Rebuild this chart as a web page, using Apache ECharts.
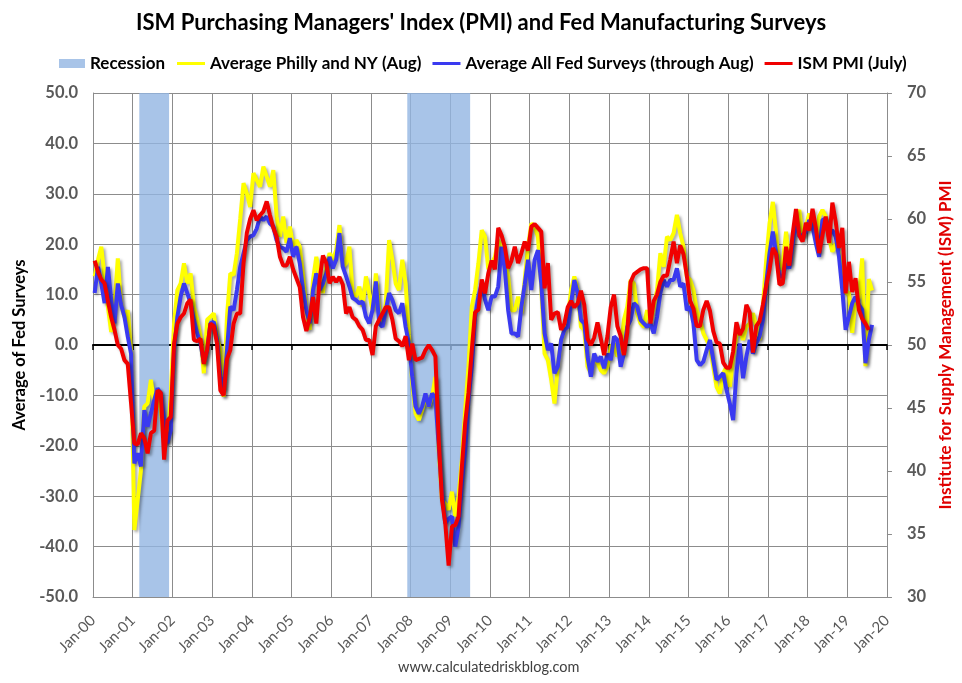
<!DOCTYPE html>
<html>
<head>
<meta charset="utf-8">
<script src="https://cdn.jsdelivr.net/npm/echarts@6/dist/echarts.min.js"></script>
<style>
html,body{margin:0;padding:0;background:#ffffff;}
#chart{width:962px;height:683px;}
</style>
</head>
<body>
<div id="chart"></div>
<script>
// ---------------- DATA ----------------
const START_YEAR = 2000;   // first month of every series = Jan 2000
const xTickLabels = ['Jan-00','Jan-01','Jan-02','Jan-03','Jan-04','Jan-05','Jan-06','Jan-07','Jan-08','Jan-09',
  'Jan-10','Jan-11','Jan-12','Jan-13','Jan-14','Jan-15','Jan-16','Jan-17','Jan-18','Jan-19','Jan-20'];
const recessions = [['2001-03','2001-11'], ['2007-12','2009-06']];

// Average Philly and NY (monthly, Jan 2000 - Aug 2019)
const phillyNY = [
  13.6, 16.9, 19.5, 13.6, 7.6, 2.6, 7.6, 17.2, 8.0, 5.5, 6.9, -1.0,
  -36.7, -30.8, -24.8, -12.2, -11.6, -6.9, -11.6, -8.9, -12.9, -19.5, -18.8, -10.0,
  4.3, 10.9, 12.2, 16.2, 12.2, 14.2, 7.6, 5.0, 1.7, -5.6, 5.0, 5.6,
  6.3, 1.7, -1.0, -10.3, 5.6, 14.2, 13.9, 18.2, 25.0, 32.1, 30.1, 27.4,
  34.1, 32.7, 31.4, 35.4, 33.4, 31.4, 34.7, 25.5, 21.5, 25.5, 20.2, 23.5,
  19.5, 20.8, 19.5, 13.6, 6.9, 3.0, 12.9, 17.5, 13.6, 10.3, 15.5, 18.2,
  16.9, 18.8, 23.8, 15.5, 16.2, 19.5, 10.3, 9.6, 11.6, 7.6, 13.6, 10.3,
  6.9, 14.2, 6.9, 4.3, 8.3, 20.8, 16.9, 12.2, 10.9, 16.9, 12.2, 2.0,
  -7.6, -13.6, -14.9, -12.9, -10.3, -12.2, -10.3, -6.3, -20.8, -30.8, -31.5, -32.7,
  -29.1, -34.0, -30.0, -22.8, -12.9, -4.3, 7.6, 10.9, 16.2, 22.8, 21.5, 15.0,
  16.2, 17.5, 20.8, 19.5, 17.5, 13.6, 6.9, 6.9, 9.6, 6.3, 12.9, 19.5,
  24.1, 23.5, 21.5, 11.6, -1.7, -3.0, -6.9, -11.6, -4.3, 1.0, 3.0, 5.0,
  10.9, 13.6, 10.9, 3.6, 3.0, -4.3, -5.6, -2.3, -3.6, -5.0, -5.6, -4.3,
  -0.3, 0.3, -2.3, -1.0, 5.0, 7.6, 12.9, 12.2, 6.3, 4.3, 3.6, 6.9,
  4.3, 7.6, 10.9, 18.2, 15.5, 21.5, 20.8, 22.2, 25.8, 22.2, 19.5, 13.6,
  12.9, 10.9, 6.9, 5.0, 2.3, 1.0, -0.3, -4.3, -8.3, -9.6, -5.6, -4.3,
  -8.3, -2.3, 1.7, 3.0, 1.0, 3.6, 4.3, 6.3, 3.6, 1.0, 7.6, 16.9,
  24.1, 28.4, 22.2, 14.9, 16.2, 22.5, 16.2, 20.8, 25.5, 26.8, 21.5, 23.5,
  26.1, 23.8, 20.8, 25.5, 26.8, 25.5, 21.2, 18.5, 20.2, 18.2, 15.0, 10.2,
  10.5, 2.4, 8.7, 9.3, 17.2, -4.2, 13.1, 10.8
];

// Average All Fed Surveys (monthly, Jan 2000 - Aug 2019)
const allFed = [
  10.3, 15.5, 12.2, 8.3, 15.5, 9.0, 4.3, 12.2, 8.0, 5.6, 1.7, -1.7,
  -23.5, -21.5, -24.1, -12.9, -16.2, -13.6, -10.9, -8.6, -9.6, -15.0, -19.5, -16.9,
  -1.0, 5.6, 9.6, 12.2, 10.3, 8.3, 5.0, 2.3, 0.3, -3.6, -1.0, 4.3,
  4.6, 1.0, -6.3, -8.9, -1.0, 7.6, 6.9, 10.9, 15.5, 18.2, 20.8, 21.5,
  21.8, 23.1, 25.5, 24.8, 25.5, 24.1, 23.5, 20.8, 19.5, 19.2, 18.5, 21.2,
  17.5, 19.5, 16.2, 10.9, 6.9, 4.3, 10.9, 14.2, 10.9, 12.2, 14.2, 17.5,
  15.2, 16.9, 22.2, 15.5, 13.6, 11.6, 9.3, 8.9, 8.3, 8.6, 5.6, 4.3,
  7.0, 12.6, 4.3, 3.6, 6.9, 10.3, 8.9, 6.9, 6.3, 8.3, 3.6, 0.3,
  -6.3, -12.2, -13.6, -12.2, -9.6, -12.2, -9.6, -10.5, -20.0, -29.4, -35.4, -34.5,
  -34.0, -40.0, -36.0, -27.4, -20.8, -10.9, -4.3, 5.6, 9.6, 12.2, 9.0, 6.9,
  9.6, 9.6, 11.6, 19.5, 14.9, 6.9, 2.3, 2.3, 1.7, 7.6, 12.0, 16.9,
  10.9, 16.9, 18.8, 12.2, 2.3, -1.0, 0.3, -5.6, -4.3, 1.0, 3.0, 3.6,
  8.3, 12.9, 10.3, 5.0, 4.3, -2.3, -6.3, -1.7, -3.3, -2.3, -4.6, -1.7,
  -3.0, 1.7, 1.0, -4.3, -1.7, 3.6, 5.0, 8.3, 7.6, 5.0, 4.3, 3.6,
  4.3, 2.3, 5.6, 10.3, 12.9, 11.6, 12.9, 12.9, 15.2, 11.6, 12.2, 6.9,
  7.6, 4.3, -3.0, -4.0, -3.3, -1.0, 1.0, -3.0, -6.9, -6.3, -5.6, -8.9,
  -11.6, -14.9, -5.6, 0.3, -6.6, -2.3, 1.0, -1.7, 0.3, 1.7, 5.0, 12.2,
  18.2, 22.5, 18.2, 13.6, 13.6, 16.2, 15.2, 20.2, 24.8, 21.5, 21.8, 22.5,
  24.8, 23.5, 20.2, 17.5, 24.8, 25.1, 22.2, 22.8, 21.5, 17.5, 10.9, 3.0,
  5.6, 8.3, 9.6, 8.0, 7.0, -3.6, 1.0, 4.0
];

// ISM PMI (monthly, Jan 2000 - Jul 2019), right axis
const ismPMI = [
  56.7, 55.8, 55.2, 54.9, 53.5, 52.2, 51.2, 50.0, 49.7, 48.8, 48.5, 45.4,
  42.2, 42.1, 43.0, 42.6, 41.4, 43.0, 43.2, 46.4, 46.2, 40.9, 44.0, 44.3,
  50.1, 51.7, 52.2, 52.5, 53.3, 53.6, 50.4, 50.3, 50.5, 48.5, 49.6, 51.7,
  51.5, 50.1, 46.4, 46.0, 48.9, 49.6, 51.7, 52.5, 52.5, 56.5, 58.9, 60.0,
  60.7, 59.9, 60.3, 60.6, 61.4, 60.3, 59.3, 58.6, 57.0, 56.3, 56.3, 57.0,
  56.0, 55.3, 54.6, 52.2, 51.1, 52.2, 53.8, 51.7, 55.2, 57.1, 56.5, 54.9,
  55.4, 55.0, 55.4, 54.8, 52.5, 53.0, 52.2, 52.0, 51.5, 51.2, 50.4, 50.4,
  49.2, 51.5, 52.0, 52.5, 53.0, 53.0, 52.0, 50.5, 50.3, 49.9, 50.7, 48.8,
  50.1, 48.8, 48.9, 49.0, 49.6, 50.0, 49.6, 49.1, 42.5, 37.7, 35.8, 32.5,
  35.6, 35.7, 36.4, 40.3, 43.8, 46.2, 49.6, 52.6, 52.8, 55.2, 54.1, 55.7,
  56.7, 56.0, 59.3, 58.7, 57.8, 56.1, 56.7, 57.8, 56.5, 57.3, 58.2, 57.5,
  59.4, 59.6, 59.3, 59.0, 54.5, 56.5, 52.0, 52.5, 52.6, 51.2, 51.7, 53.0,
  53.5, 53.0, 53.3, 54.3, 53.2, 50.5, 50.0, 50.6, 51.8, 50.5, 49.2, 50.7,
  53.0, 54.0, 51.5, 50.7, 49.2, 51.0, 55.0, 55.6, 55.8, 56.0, 56.1, 56.1,
  51.7, 53.5, 54.0, 55.0, 55.5, 55.5, 56.8, 58.2, 56.5, 57.9, 57.2, 55.5,
  53.5, 52.9, 51.5, 51.5, 52.8, 53.5, 52.7, 51.1, 50.2, 50.1, 48.6, 48.2,
  48.2, 49.5, 51.8, 50.8, 51.3, 53.2, 52.6, 49.4, 51.5, 51.9, 53.2, 54.7,
  56.0, 57.7, 57.2, 54.8, 54.9, 57.8, 56.3, 58.8, 60.8, 58.7, 58.2, 59.7,
  59.1, 60.8, 59.3, 57.3, 58.7, 60.2, 58.1, 61.3, 59.8, 57.7, 59.3, 54.1,
  56.6, 54.2, 55.3, 52.8, 52.1, 51.7, 51.2
];

// ---------------- CHART ----------------
const FONT = "Lato, 'Open Sans', 'DejaVu Sans', sans-serif";
function monthIndex(s){ const p = s.split('-'); return (+p[0] - START_YEAR) * 12 + (+p[1] - 1); }
// each monthly value sits in the middle of its month slot
function toPoints(arr){ return arr.map(function(v, i){ return [i + 0.5, v]; }); }
const totalMonths = (xTickLabels.length - 1) * 12;

const lineShadow = { shadowColor: 'rgba(0,0,0,0.35)', shadowBlur: 3, shadowOffsetX: 2, shadowOffsetY: 2 };
const GRID_GREY = '#8c8c8c';

const chart = echarts.init(document.getElementById('chart'), null, { renderer: 'canvas' });
chart.setOption({
  animation: false,
  backgroundColor: '#ffffff',
  title: {
    text: "ISM Purchasing Managers' Index (PMI) and Fed Manufacturing Surveys",
    left: 'center', top: 7,
    textStyle: { fontFamily: FONT, fontSize: 22, fontWeight: 'bold', color: '#000000' }
  },
  legend: [
    {
      data: [{ name: 'Recession', icon: 'rect' }],
      left: 54, top: 50, itemWidth: 26, itemHeight: 9,
      textStyle: { fontFamily: FONT, fontSize: 17, fontWeight: 'bold', color: '#000000' }
    },
    {
      data: [
        { name: 'Average Philly and NY (Aug)', icon: 'rect' },
        { name: 'Average All Fed Surveys (through Aug)', icon: 'rect' },
        { name: 'ISM PMI (July)', icon: 'rect' }
      ],
      left: 172, top: 50, itemWidth: 28, itemHeight: 3, itemGap: 11,
      textStyle: { fontFamily: FONT, fontSize: 17, fontWeight: 'bold', color: '#000000' }
    }
  ],
  grid: { left: 93, right: 73, top: 93, bottom: 86, containLabel: false },
  xAxis: [
    {
      type: 'value', min: 0, max: totalMonths, interval: 12, position: 'bottom',
      axisLine: { show: true, onZero: false, lineStyle: { color: GRID_GREY, width: 1 } },
      axisTick: { show: false },
      splitLine: { show: true, lineStyle: { color: GRID_GREY, width: 1 } },
      axisLabel: {
        rotate: 45, margin: 21, color: '#595959', fontFamily: FONT, fontSize: 15,
        formatter: function(v){ return xTickLabels[Math.round(v / 12)] || ''; }
      }
    },
    {
      type: 'value', min: 0, max: totalMonths, interval: 12, position: 'bottom',
      axisLine: { show: true, onZero: true, onZeroAxisIndex: 0, lineStyle: { color: '#000000', width: 2 } },
      axisTick: { show: true, inside: false, length: 5, lineStyle: { color: '#000000', width: 1.5 } },
      axisLabel: { show: false },
      splitLine: { show: false }
    }
  ],
  yAxis: [
    {
      type: 'value', min: -50, max: 50, interval: 10, position: 'left',
      name: 'Average of Fed Surveys', nameLocation: 'middle', nameRotate: 90, nameGap: 61,
      nameTextStyle: { fontFamily: FONT, fontSize: 16.5, fontWeight: 'bold', color: '#000000' },
      axisLine: { show: true, onZero: false, lineStyle: { color: GRID_GREY } },
      axisTick: { show: false },
      splitLine: { show: true, lineStyle: { color: GRID_GREY, width: 1 } },
      axisLabel: {
        margin: 15, color: '#595959', fontFamily: FONT, fontSize: 16.5, fontWeight: 'bold',
        formatter: function(v){ return v.toFixed(1); }
      }
    },
    {
      type: 'value', min: 30, max: 70, interval: 5, position: 'right',
      name: 'Institute for Supply Management (ISM) PMI', nameLocation: 'middle', nameRotate: 90, nameGap: 46,
      nameTextStyle: { fontFamily: FONT, fontSize: 17, fontWeight: 'bold', color: '#e00000' },
      axisLine: { show: true, onZero: false, lineStyle: { color: GRID_GREY } },
      axisTick: { show: true, inside: false, length: 5, lineStyle: { color: GRID_GREY } },
      splitLine: { show: false },
      axisLabel: { margin: 20, color: '#595959', fontFamily: FONT, fontSize: 16.5, fontWeight: 'bold' }
    }
  ],
  graphic: [
    {
      type: 'text', left: 398, top: 660,
      style: { text: 'www.calculatedriskblog.com', fill: '#404040', font: '14.5px ' + FONT }
    }
  ],
  series: [
    {
      name: 'Recession', type: 'line', data: [], z: 1,
      color: '#a8c4e8', itemStyle: { color: '#a8c4e8' },
      markArea: {
        silent: true,
        itemStyle: { color: 'rgba(146,181,226,0.8)' },
        data: recessions.map(function(r){ return [{ xAxis: monthIndex(r[0]) }, { xAxis: monthIndex(r[1]) + 1 }]; })
      }
    },
    {
      name: 'Average Philly and NY (Aug)', type: 'line', yAxisIndex: 0, showSymbol: false, symbol: 'none',
      color: '#ffff00',
      lineStyle: Object.assign({ color: '#ffff00', width: 4 }, lineShadow),
      data: toPoints(phillyNY)
    },
    {
      name: 'Average All Fed Surveys (through Aug)', type: 'line', yAxisIndex: 0, showSymbol: false, symbol: 'none',
      color: '#3a3af0',
      lineStyle: Object.assign({ color: '#3a3af0', width: 4 }, lineShadow),
      data: toPoints(allFed)
    },
    {
      name: 'ISM PMI (July)', type: 'line', yAxisIndex: 1, showSymbol: false, symbol: 'none',
      color: '#f00000',
      lineStyle: Object.assign({ color: '#f00000', width: 4 }, lineShadow),
      data: toPoints(ismPMI)
    }
  ]
});
</script>
</body>
</html>
